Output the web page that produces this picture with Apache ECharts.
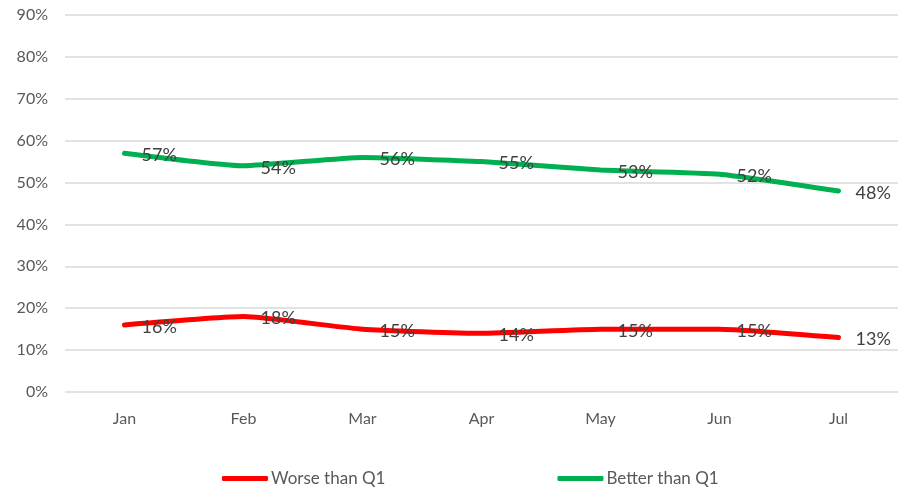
<!DOCTYPE html>
<html>
<head>
<meta charset="utf-8">
<script src="https://cdn.jsdelivr.net/npm/echarts@6/dist/echarts.min.js"></script>
<style>
  html, body { margin: 0; padding: 0; background: #fff; }
  #chart { width: 898px; height: 490px; }
</style>
</head>
<body>
<div id="chart"></div>
<script>
const months = ['Jan', 'Feb', 'Mar', 'Apr', 'May', 'Jun', 'Jul'];
const worse = [16, 18, 15, 14, 15, 15, 13];
const better = [57, 54, 56, 55, 53, 52, 48];

const myChart = echarts.init(document.getElementById('chart'));
const font = 'Lato, "Open Sans", sans-serif';

const labelStyle = {
  show: true,
  position: 'right',
  distance: 17,
  offset: [0, 2],
  formatter: p => p.value + '%',
  color: '#404040',
  fontSize: 18,
  fontFamily: font
};

const option = {
  animation: false,
  grid: { left: 65, right: 0, top: 15, bottom: 98 },
  legend: {
    bottom: -2,
    left: 217,
    itemWidth: 46,
    itemHeight: 5,
    itemGap: 172,
    icon: 'roundRect',
    textStyle: { color: '#595959', fontSize: 17, fontFamily: font, padding: [0, 0, 0, -2] },
    data: ['Worse than Q1', 'Better than Q1']
  },
  xAxis: {
    type: 'category',
    data: months,
    boundaryGap: true,
    axisLine: { show: false },
    axisTick: { show: false },
    axisLabel: { color: '#595959', fontSize: 16, fontFamily: font, margin: 19 }
  },
  yAxis: {
    type: 'value',
    min: 0,
    max: 90,
    interval: 10,
    axisLine: { show: false },
    axisTick: { show: false },
    axisLabel: { color: '#595959', fontSize: 16, fontFamily: font, margin: 17, formatter: '{value}%' },
    splitLine: { lineStyle: { color: '#d9d9d9', width: 1.5 } }
  },
  series: [
    {
      name: 'Worse than Q1',
      type: 'line',
      data: worse,
      smooth: 0.15,
      symbol: 'circle',
      symbolSize: 0,
      showAllSymbol: true,
      itemStyle: { color: '#ff0000' },
      lineStyle: { width: 5, color: '#ff0000', cap: 'round' },
      label: labelStyle
    },
    {
      name: 'Better than Q1',
      type: 'line',
      data: better,
      smooth: 0.15,
      symbol: 'circle',
      symbolSize: 0,
      showAllSymbol: true,
      itemStyle: { color: '#00b050' },
      lineStyle: { width: 5, color: '#00b050', cap: 'round' },
      label: labelStyle
    }
  ]
};

myChart.setOption(option);
</script>
</body>
</html>
